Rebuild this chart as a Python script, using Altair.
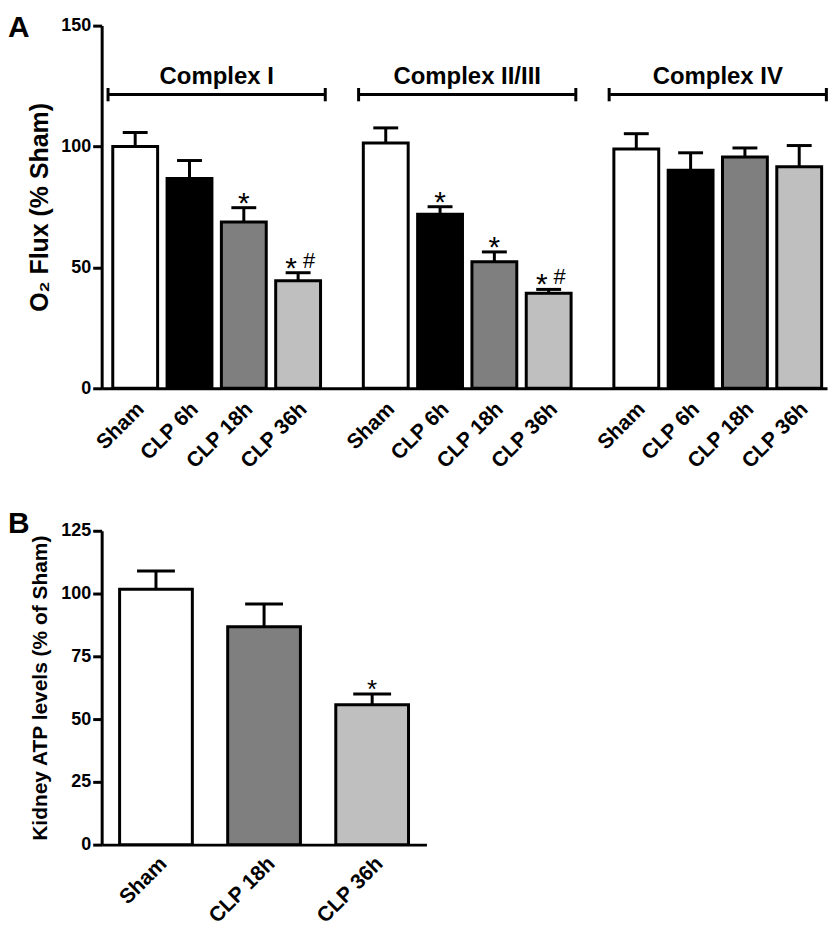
import altair as alt
import pandas as pd

FONT = "Liberation Sans, Arial, Helvetica, sans-serif"

# ---------------- data ----------------
panel_labels = ["A", "B"]

complexes = ["Complex I", "Complex II/III", "Complex IV"]
conditions = ["Sham", "CLP 6h", "CLP 18h", "CLP 36h"]
fills = ["#ffffff", "#000000", "#7f7f7f", "#bfbfbf"]

flux_complex_i = [100.0, 86.8, 68.8, 44.5]
flux_complex_i_err = [5.8, 7.4, 5.9, 3.3]
flux_complex_ii_iii = [101.5, 72.0, 52.3, 39.3]
flux_complex_ii_iii_err = [6.2, 3.1, 4.1, 1.6]
flux_complex_iv = [99.0, 90.2, 95.7, 91.6]
flux_complex_iv_err = [6.3, 7.2, 3.7, 8.8]

flux_star = [["", "", "*", "*"], ["", "*", "*", "*"], ["", "", "", ""]]
flux_hash = [["", "", "", "#"], ["", "", "", "#"], ["", "", "", ""]]

flux_ticks = [0, 50, 100, 150]
bracket_level = 121.5
bracket_cap = [118.7, 124.2]
bracket_title_level = 126.0

atp_conditions = ["Sham", "CLP 18h", "CLP 36h"]
atp_fills = ["#ffffff", "#7f7f7f", "#bfbfbf"]
atp_mean = [101.7, 86.8, 55.7]
atp_err = [7.3, 9.0, 4.3]
atp_star = ["", "", "*"]
atp_ticks = [0, 25, 50, 75, 100, 125]

# ---------------- tables ----------------
means = [flux_complex_i, flux_complex_ii_iii, flux_complex_iv]
errs = [flux_complex_i_err, flux_complex_ii_iii_err, flux_complex_iv_err]
rows = []
for ci, c in enumerate(complexes):
    for k, cond in enumerate(conditions):
        rows.append(dict(complex=c, condition=cond, mean=means[ci][k],
                         upper=means[ci][k] + errs[ci][k],
                         star=flux_star[ci][k], hash=flux_hash[ci][k]))
dfA = pd.DataFrame(rows)
dfC = pd.DataFrame({"complex": complexes})

dfB = pd.DataFrame({"condition": atp_conditions, "mean": atp_mean,
                    "upper": [m + e for m, e in zip(atp_mean, atp_err)],
                    "star": atp_star})

# ---------------- panel A ----------------
WA, HA = 728, 364
xscale = alt.Scale(paddingInner=0.133, paddingOuter=0.014, align=0.91)
xaxis = alt.Axis(title=None, labels=False, ticks=False, domain=True)


def XA(bp=None):
    if bp is None:
        return alt.X("complex:N", sort=complexes, scale=xscale, axis=xaxis)
    return alt.X("complex:N", sort=complexes, scale=xscale, axis=xaxis, bandPosition=bp)


XO = alt.XOffset("condition:N", sort=conditions,
                 scale=alt.Scale(paddingInner=0.174, paddingOuter=0.087))
YA = alt.Y("mean:Q", scale=alt.Scale(domain=[0, 150], nice=False),
           axis=alt.Axis(values=flux_ticks, title="O₂ Flux (% Sham)",
                         titleFontSize=25, titlePadding=8,
                         labelFontSize=18, labelPadding=2, tickSize=9))

baseA = alt.Chart(dfA)
barsA = baseA.mark_bar(stroke="black", strokeWidth=3).encode(
    x=XA(), xOffset=XO, y=YA,
    fill=alt.Fill("condition:N", scale=alt.Scale(domain=conditions, range=fills), legend=None))
errA = baseA.mark_rule(strokeWidth=3, color="black").encode(
    x=XA(), xOffset=XO, y="mean:Q", y2="upper:Q")
capA = baseA.mark_tick(size=25, thickness=3, color="black", opacity=1).encode(
    x=XA(), xOffset=XO, y="upper:Q")

star_single = baseA.transform_filter("datum.star == '*' && datum.hash == ''").mark_text(
    font=FONT, fontSize=30, baseline="alphabetic", dy=5, color="black").encode(
    x=XA(), xOffset=XO, y="upper:Q", text="star:N")
star_pair = baseA.transform_filter("datum.star == '*' && datum.hash == '#'").mark_text(
    font=FONT, fontSize=30, baseline="alphabetic", dy=5, dx=-7, color="black").encode(
    x=XA(), xOffset=XO, y="upper:Q", text="star:N")
hash_pair = baseA.transform_filter("datum.hash == '#'").mark_text(
    font=FONT, fontSize=22, baseline="alphabetic", dy=-5, dx=11, color="black").encode(
    x=XA(), xOffset=XO, y="upper:Q", text="hash:N")

xlabelsA = baseA.mark_text(font=FONT, fontSize=21, fontWeight="bold", angle=315,
                           align="right", baseline="top", dx=-3, color="black").encode(
    x=XA(), xOffset=XO, y=alt.value(HA + 8), text="condition:N")

baseC = alt.Chart(dfC)
bracket_line = baseC.mark_tick(size=216, thickness=3, color="black", opacity=1).encode(
    x=XA(), y=alt.datum(bracket_level))
bracket_left = baseC.mark_rule(strokeWidth=3, color="black").encode(
    x=XA(0), y=alt.datum(bracket_cap[0]), y2=alt.datum(bracket_cap[1]))
bracket_right = baseC.mark_rule(strokeWidth=3, color="black").encode(
    x=XA(1), y=alt.datum(bracket_cap[0]), y2=alt.datum(bracket_cap[1]))
bracket_title = baseC.mark_text(font=FONT, fontSize=24, fontWeight="bold",
                                baseline="alphabetic", color="black").encode(
    x=XA(), y=alt.datum(bracket_title_level), text="complex:N")

letterA = alt.Chart(pd.DataFrame({"label": [panel_labels[0]]})).mark_text(
    font=FONT, fontSize=30, fontWeight="bold", align="left", baseline="top", color="black").encode(
    x=alt.value(-94), y=alt.value(-13), text="label:N")

chartA = alt.layer(barsA, errA, capA, star_single, star_pair, hash_pair, xlabelsA,
                   bracket_line, bracket_left, bracket_right, bracket_title, letterA
                   ).properties(width=WA, height=HA)

# ---------------- panel B ----------------
WB, HB = 326, 315
XB = alt.X("condition:N", sort=atp_conditions,
           scale=alt.Scale(paddingInner=0.327, paddingOuter=0.166),
           axis=alt.Axis(title=None, labelAngle=-45, labelFontSize=21, labelPadding=8, ticks=False))
YB = alt.Y("mean:Q", scale=alt.Scale(domain=[0, 125], nice=False),
           axis=alt.Axis(values=atp_ticks, title="Kidney ATP levels (% of Sham)",
                         titleFontSize=21, titlePadding=10,
                         labelFontSize=18, labelPadding=2, tickSize=9))
baseB = alt.Chart(dfB)
barsB = baseB.mark_bar(stroke="black", strokeWidth=3).encode(
    x=XB, y=YB,
    fill=alt.Fill("condition:N", scale=alt.Scale(domain=atp_conditions, range=atp_fills), legend=None))
errB = baseB.mark_rule(strokeWidth=3, color="black").encode(x=XB, y="mean:Q", y2="upper:Q")
capB = baseB.mark_tick(size=38, thickness=3, color="black", opacity=1).encode(x=XB, y="upper:Q")
starB = baseB.transform_filter("datum.star == '*'").mark_text(
    font=FONT, fontSize=26, baseline="alphabetic", dy=4, color="black").encode(
    x=XB, y="upper:Q", text="star:N")
letterB = alt.Chart(pd.DataFrame({"label": [panel_labels[1]]})).mark_text(
    font=FONT, fontSize=30, fontWeight="bold", align="left", baseline="top", color="black").encode(
    x=alt.value(-94), y=alt.value(-22), text="label:N")

chartB = alt.layer(barsB, errB, capB, starB, letterB).properties(width=WB, height=HB)

chart = alt.vconcat(chartA, chartB, spacing=36).resolve_scale(fill="independent").properties(
    padding={"left": 0, "top": 3, "right": 0, "bottom": 0}
).configure_view(stroke=None).configure_axis(
    domainColor="black", tickColor="black", labelColor="black", titleColor="black",
    labelFont=FONT, titleFont=FONT, labelFontWeight="bold", titleFontWeight="bold",
    grid=False, domainWidth=3, tickWidth=3
)

chart.save("out.html", embed_options={"renderer": "svg", "actions": False})
